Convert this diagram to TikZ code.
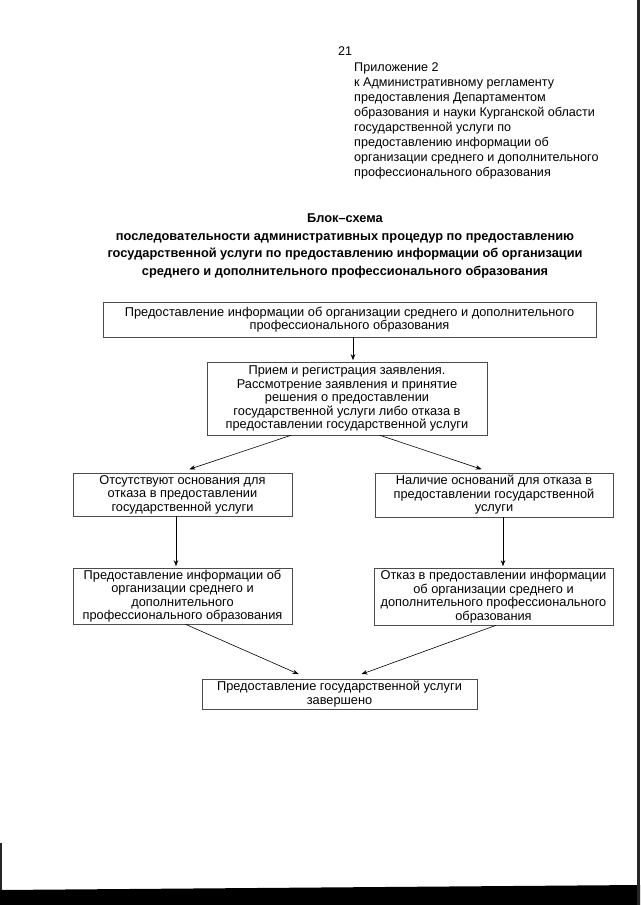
\documentclass[tikz,border=0pt]{standalone}
\usepackage{fontspec}
\setmainfont{Liberation Sans}
\usetikzlibrary{arrows.meta}
\begin{document}
\begin{tikzpicture}[x=1pt,y=-1pt,
  box/.style={draw=black!70, line width=0.6pt, inner sep=0pt, align=center,
    font=\fontsize{12.8}{13.5}\selectfont},
  arr/.style={draw=black, line width=0.6pt, shorten >=1.5pt,
    -{Stealth[length=6pt,width=4.5pt]}},
  plain/.style={inner sep=0pt, font=\fontsize{12.6}{15.1}\selectfont}]
\fill[white] (0,0) rectangle (640,905);
\useasboundingbox (0,0) rectangle (640,905);
% scan borders
\fill[black] (0,890) -- (640,885) -- (640,905) -- (0,905) -- cycle;
\fill[black!85] (637,0) rectangle (640,905);
\fill[black!85] (0,843) rectangle (2,890);

% header
\node[plain, anchor=west] (pg) at (338,51) {21};
\node[plain, anchor=west, align=left] (hdr) at (354,121) {Приложение 2\\
к Административному регламенту\\
предоставления Департаментом\\
образования и науки Курганской области\\
государственной услуги по\\
предоставлению информации об\\
организации среднего и дополнительного\\
профессионального образования};

% title
\node[inner sep=0pt, align=center, font=\bfseries\fontsize{12.8}{17.4}\selectfont] (title) at (345,246)
{Блок–схема\\
последовательности административных процедур по предоставлению\\
государственной услуги по предоставлению информации об организации\\
среднего и дополнительного профессионального образования};

% boxes
\node[box, font=\fontsize{12.8}{13.2}\selectfont, minimum width=493pt, minimum height=35pt] (b1) at (349.5,319.5)
{Предоставление информации об организации среднего и дополнительного\\профессионального образования};
\node[box, minimum width=280pt, minimum height=73pt] (b2) at (347,398.5)
{Прием и регистрация заявления.\\Рассмотрение заявления и принятие\\решения о предоставлении\\государственной услуги либо отказа в\\предоставлении государственной услуги};
\node[box, minimum width=219pt, minimum height=43pt] (b3l) at (182.5,494.5)
{Отсутствуют основания для\\отказа в предоставлении\\государственной услуги};
\node[box, minimum width=238pt, minimum height=44pt] (b3r) at (494,495)
{Наличие оснований для отказа в\\предоставлении государственной\\услуги};
\node[box, minimum width=219pt, minimum height=56pt] (b4l) at (182.5,596)
{Предоставление информации об\\организации среднего и\\дополнительного\\профессионального образования};
\node[box, minimum width=239pt, minimum height=57pt] (b4r) at (493.5,596.5)
{Отказ в предоставлении информации\\об организации среднего и\\дополнительного профессионального\\образования};
\node[box, minimum width=275pt, minimum height=30pt] (b5) at (339.5,694)
{Предоставление государственной услуги\\завершено};

% connectors
\draw[arr] ([xshift=3.5pt]b1.south) -- ([xshift=6pt]b2.north);
\draw[arr] ([xshift=-56pt]b2.south) -- ([xshift=5.5pt,yshift=3pt]b3l.north);
\draw[arr] ([xshift=33pt]b2.south) -- ([xshift=-11pt,yshift=3pt]b3r.north);
\draw[arr] ([xshift=-6.5pt]b3l.south) -- ([xshift=-6.5pt]b4l.north);
\draw[arr] ([xshift=9pt]b3r.south) -- ([xshift=9.5pt]b4r.north);
\draw[arr] ([xshift=3pt]b4l.south) -- ([xshift=-39.5pt,yshift=4pt]b5.north);
\draw[arr] ([xshift=2.5pt]b4r.south) -- ([xshift=20.5pt,yshift=4pt]b5.north);
\end{tikzpicture}
\end{document}
